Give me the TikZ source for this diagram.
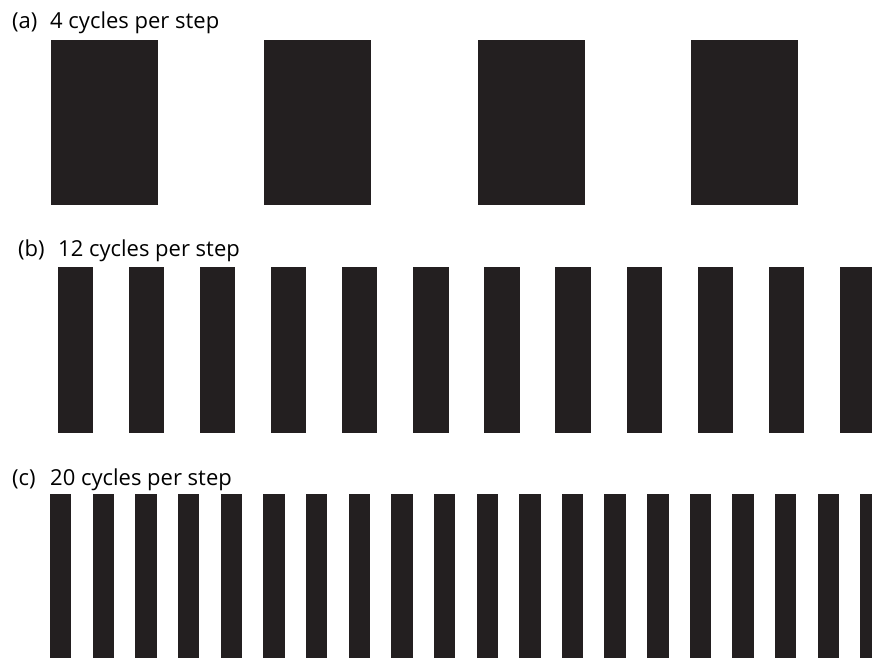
\documentclass[tikz,border=0pt]{standalone}
\usepackage{fontspec}
\setmainfont{Open Sans}
\definecolor{bardark}{RGB}{35,31,32}

\begin{document}
\begin{tikzpicture}[x=1pt, y=-1pt,
  bar/.style={fill=bardark},
  lbl/.style={anchor=base west, inner sep=0pt, font=\fontsize{22}{26}\selectfont}]
\useasboundingbox (0,0) rectangle (872,657);
\clip (0,0) rectangle (872,657);
% (a) 4 cycles
\node[lbl] (taga) at (12,28.5) {(a)};
\node[lbl] (texta) at (50,28.5) {4 cycles per step};
\foreach \i in {0,...,3}
  \fill[bar] ({51+213.4*\i},39.5) rectangle ++(107,165.5);
% (b) 12 cycles
\node[lbl] (tagb) at (18,256.5) {(b)};
\node[lbl] (textb) at (58,256.5) {12 cycles per step};
\foreach \i in {0,...,11}
  \fill[bar] ({57.7+71.1*\i},267) rectangle ++(35.3,165.7);
% (c) 20 cycles
\node[lbl] (tagc) at (12,485) {(c)};
\node[lbl] (textc) at (50,485) {20 cycles per step};
\foreach \i in {0,...,19}
  \fill[bar] ({50+42.65*\i},494) rectangle ++(21.4,170);
\end{tikzpicture}
\end{document}
